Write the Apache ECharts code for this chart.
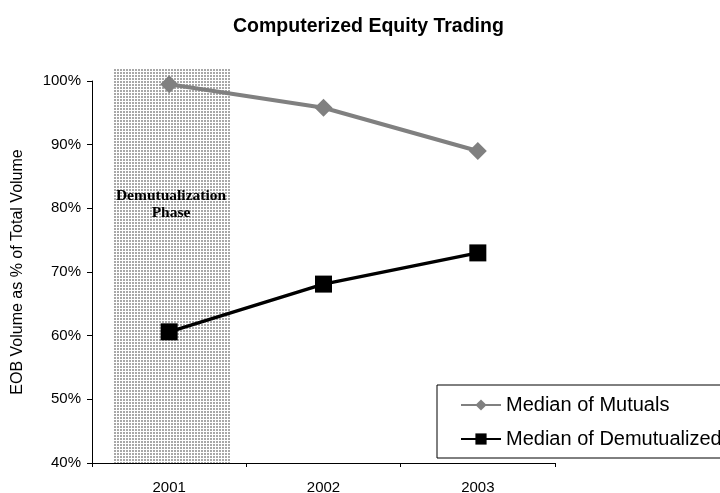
<!DOCTYPE html>
<html><head><meta charset="utf-8">
<script src="https://cdn.jsdelivr.net/npm/echarts@6/dist/echarts.min.js"></script>
<style>html,body{margin:0;padding:0;background:#fff}#c{width:720px;height:493px}</style>
</head><body><div id="c"></div>
<script>
const categories = ['2001', '2002', '2003'];
const mutuals = [99.5, 95.8, 89.0];
const demutualized = [60.6, 68.1, 73.0];
const yTicks = [40, 50, 60, 70, 80, 90, 100];
// shaded phase, in fractional category units (category i spans [i, i+1])
const phaseX = [0.136, 0.9];
const phaseY = [40, 102];

const pc = document.createElement('canvas');
pc.width = 3; pc.height = 3;
const pctx = pc.getContext('2d');
pctx.fillStyle = '#ffffff'; pctx.fillRect(0,0,3,3);
pctx.fillStyle = '#a8a8a8'; pctx.fillRect(0,0,2,2);

const chart = echarts.init(document.getElementById('c'));
chart.setOption({
  animation: false,
  title: { text: 'Computerized Equity Trading', left: 228, top: 12,
    textStyle: { fontFamily: 'Liberation Sans, Arial', fontSize: 19.5, fontWeight: 'bold', color: '#000' } },
  grid: { left: 92, right: 165, top: 81, bottom: 30, outerBoundsMode: 'none', containLabel: false },
  xAxis: [
    { type: 'category', data: categories, boundaryGap: true,
      axisLine: { lineStyle: { color: '#000', width: 1 } },
      axisTick: { show: true, length: 4, lineStyle: { color: '#000' } },
      axisLabel: { fontFamily: 'Liberation Sans, Arial', fontSize: 15, color: '#000', margin: 17 } },
    { type: 'value', min: 0, max: 3, show: false }
  ],
  yAxis: { type: 'value', min: yTicks[0], max: yTicks[yTicks.length-1], interval: 10,
    name: 'EOB Volume as % of Total Volume', nameLocation: 'middle', nameGap: 66,
    nameTextStyle: { fontFamily: 'Liberation Sans, Arial', fontSize: 16, color: '#000' },
    axisLine: { show: true, lineStyle: { color: '#000' } },
    axisTick: { show: true, length: 5, lineStyle: { color: '#000' } },
    splitLine: { show: false },
    axisLabel: { formatter: '{value}%', fontFamily: 'Liberation Sans, Arial', fontSize: 15, color: '#000', margin: 11 } },
  legend: { orient: 'vertical', left: 437, top: 385,
    data: ['Median of Mutuals', 'Median of Demutualized'],
    borderColor: '#000', borderWidth: 1, padding: [10, 12, 9, 23], itemGap: 14,
    itemWidth: 40, itemHeight: 14,
    textStyle: { fontFamily: 'Liberation Sans, Arial', fontSize: 20, color: '#000' } },
  series: [
    { name: 'phase', type: 'custom', xAxisIndex: 1, clip: false, silent: true, z: 1,
      data: [[phaseX[0], phaseX[1], phaseY[0], phaseY[1]]],
      renderItem: function (params, api) {
        const p0 = api.coord([api.value(0), api.value(3)]);
        const p1 = api.coord([api.value(1), api.value(2)]);
        return { type: 'rect', shape: { x: p0[0], y: p0[1], width: p1[0] - p0[0], height: p1[1] - p0[1] },
          style: { fill: { image: pc, repeat: 'repeat' } } };
      } },
    { name: 'Median of Mutuals', type: 'line', data: mutuals, symbol: 'diamond', symbolSize: 18,
      lineStyle: { color: '#808080', width: 4 }, itemStyle: { color: '#808080' }, z: 3 },
    { name: 'Median of Demutualized', type: 'line', data: demutualized, symbol: 'rect', symbolSize: 17,
      lineStyle: { color: '#000', width: 3.5 }, itemStyle: { color: '#000' }, z: 3 }
  ],
  graphic: [
    { type: 'text', x: 171, y: 187, style: { text: 'Demutualization\nPhase', align: 'center',
      font: 'bold 15.5px "Liberation Serif", "Times New Roman", serif', fill: '#000', lineHeight: 17 },
      z: 2 }
  ]
});
</script></body></html>
